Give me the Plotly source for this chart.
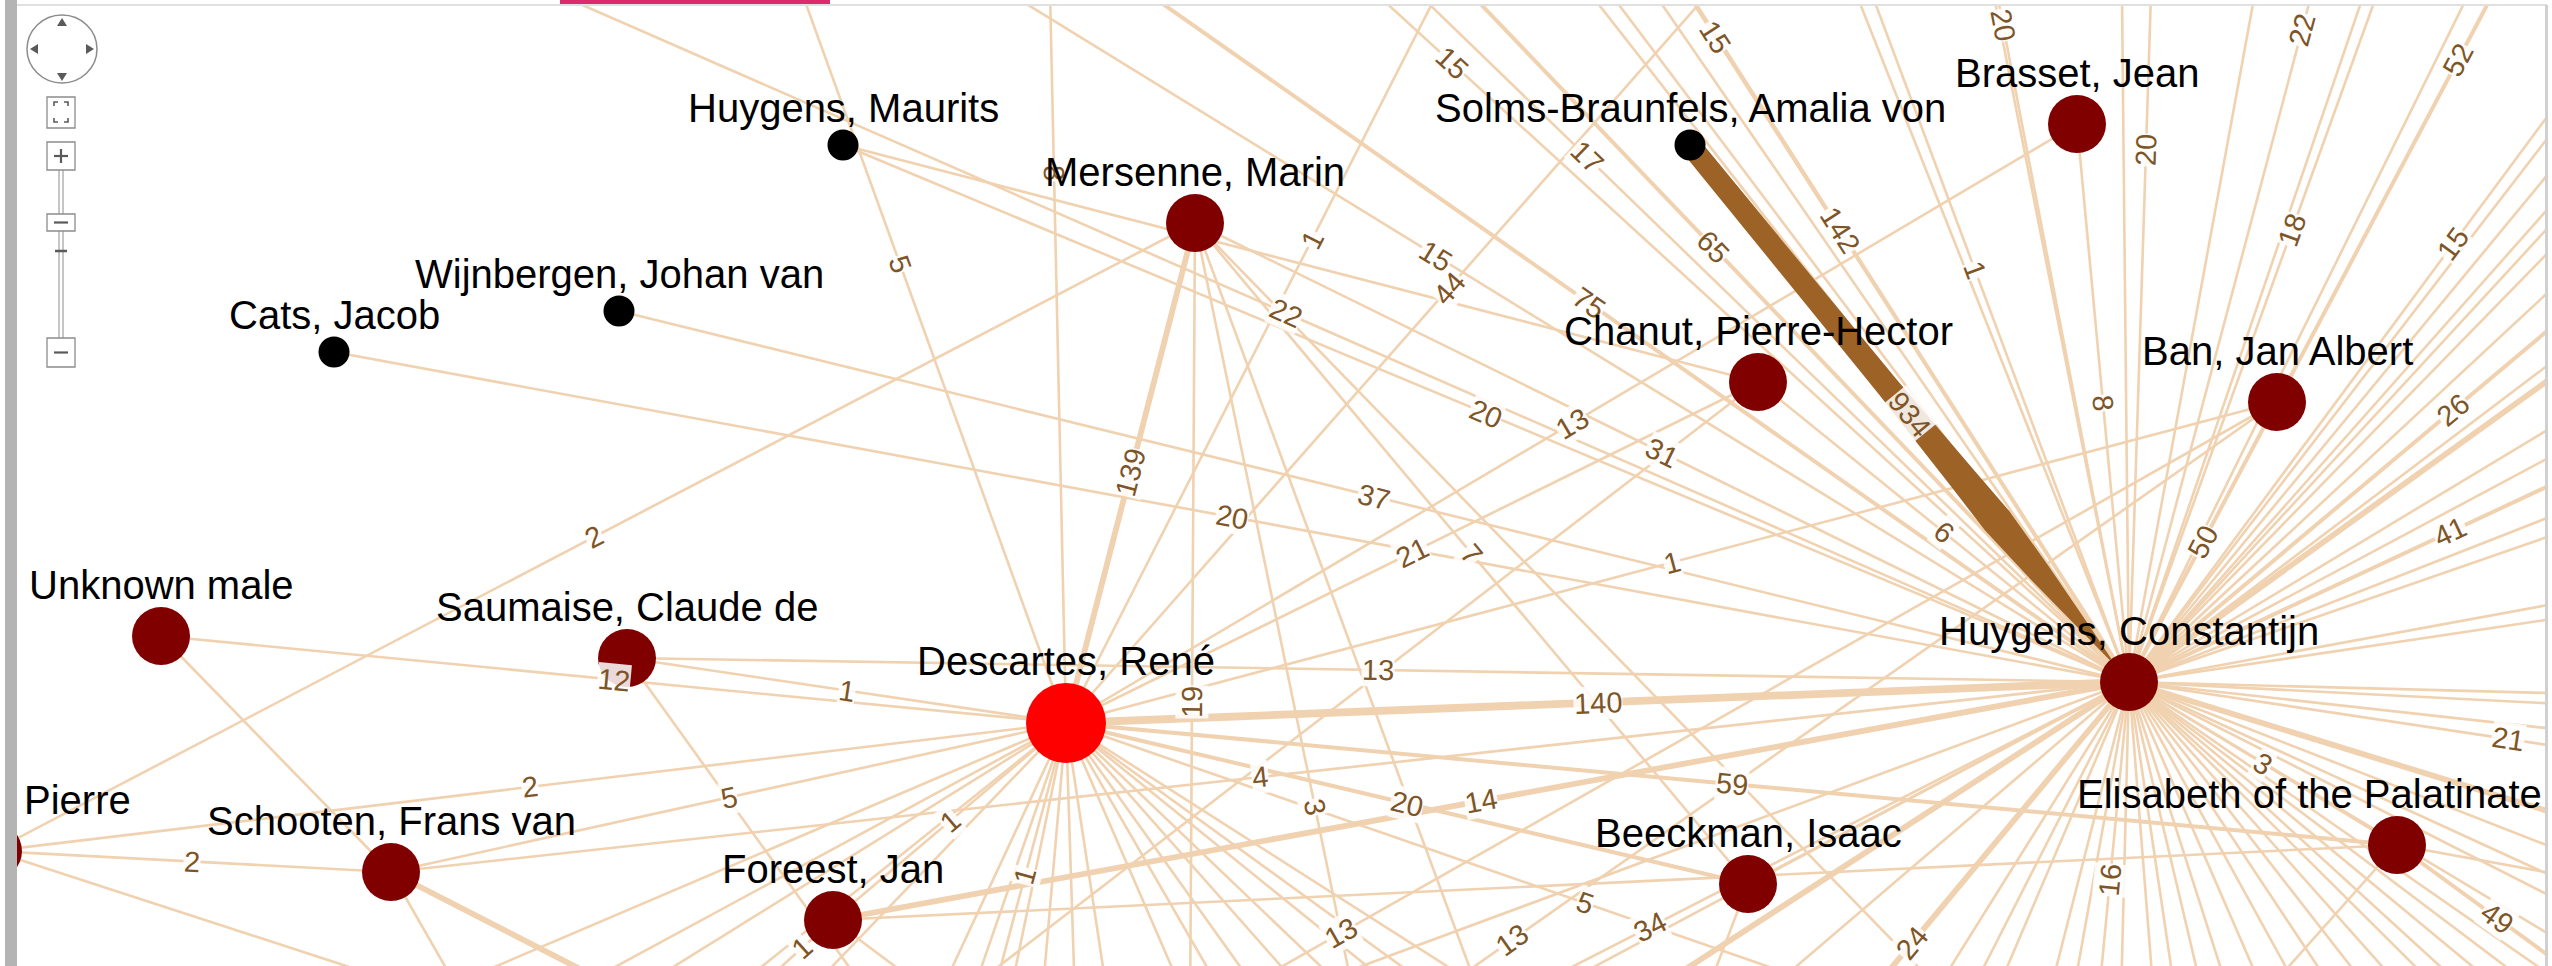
import math
import plotly.graph_objects as go

W, H = 2552, 966

# ---------------- nodes (layout coordinates of the network view) ----------------
node_keys = ["HM", "WIJ", "CATS", "SOLMS", "MER", "BRA", "CHA", "BAN", "UNK",
             "SAU", "DES", "HC", "ELI", "BEE", "FOR", "SCH", "PIE"]
node_labels = ["Huygens, Maurits", "Wijnbergen, Johan van", "Cats, Jacob",
               "Solms-Braunfels, Amalia von", "Mersenne, Marin", "Brasset, Jean",
               "Chanut, Pierre-Hector", "Ban, Jan Albert", "Unknown male",
               "Saumaise, Claude de", "Descartes, René", "Huygens, Constantijn",
               "Elisabeth of the Palatinate", "Beeckman, Isaac", "Foreest, Jan",
               "Schooten, Frans van", "Pierre"]
node_x = [843, 619, 334, 1690, 1195, 2077, 1758, 2277, 161, 627, 1066, 2129, 2397, 1748, 833, 391, -7]
node_y = [145, 311, 352, 145, 223, 124, 382, 402, 636, 658, 723, 682, 845, 884, 920, 872, 851]
node_role = ["minor", "minor", "minor", "minor", "corr", "corr", "corr", "corr", "corr",
             "corr", "focus", "corr", "corr", "corr", "corr", "corr", "corr"]

# ---------------- links between visible nodes ----------------
link_src = ["SOLMS", "MER", "DES", "CATS", "WIJ", "HM", "DES", "MER", "DES", "MER",
            "PIE", "SAU", "UNK", "SAU", "PIE", "SCH", "PIE", "FOR", "DES", "FOR",
            "DES", "BRA", "BAN", "CHA", "HC", "SCH", "DES", "HM", "UNK", "FOR", "BEE"]
link_dst = ["HC", "DES", "HC", "HC", "HC", "HC", "BRA", "HC", "CHA", "BEE",
            "MER", "DES", "DES", "HC", "DES", "DES", "SCH", "DES", "BEE", "HC",
            "ELI", "HC", "HC", "HC", "ELI", "HC", "BAN", "CHA", "SCH", "ELI", "HC"]
link_label = ["934", "139", "140", "20", "37", "20", "13", "31", "21", "7",
              "2", "1", "12", "13", "2", "5", "2", "1", "20", "14",
              "59", "8", "50", "6", "3", "4", "1", "", "", "", ""]
link_class = [0, 3, 4, 1, 1, 1, 1, 1, 1, 1,
              1, 1, 1, 1, 1, 1, 1, 1, 2, 3,
              2, 1, 1, 1, 1, 1, 1, 1, 1, 1, 1]

# ---------------- links to correspondents outside the view ----------------
spoke_src = ["HC", "HC", "HC", "HC", "HC", "HC", "HC", "HC", "HC", "HC",
             "ELI", "HC", "HC", "HC", "HC", "HC", "HC", "HC", "HC", "HC",
             "HC", "HC", "DES", "DES", "DES", "DES", "DES", "DES", "MER", "MER",
             "BAN", "BAN", "FOR",
             "HC", "HC", "DES", "DES", "DES", "DES", "DES", "SAU", "SCH", "SCH",
             "PIE", "FOR", "MER", "MER", "CHA", "BEE", "ELI", "ELI"]
spoke_x = [1877, 2163, 1821, 2455, 2475, 2787, 2777, 2777, 2771, 2887,
           2597, 1551, 1297, 1049, 1045, 775, 1301, 742, 2091, 1695,
           1171, 443, 1042, 1831, 734, 1558, 2104, 984, 1189, 1435,
           405, 747, 771,
           1000, 1250, 300, 480, 620, 720, 800, 880, 660, 470,
           420, 940, 1960, 1500, 955, 1700, 2700, 2250]
spoke_y = [-632, -382, -142, -222, -622, -562, -194, 138, 382, 796,
           991, -222, -188, -76, -368, -556, -608, -171, 1078, 1204,
           1172, -56, -377, -146, -195, -244, 1083, 1029, 1181, 1391,
           1464, 1478, 976,
           1100, 1150, 1050, 1040, 1000, 1000, 1000, 1010, 1010, 1010,
           990, 1000, 1010, 1050, 1000, 1010, 900, 1010]
spoke_label = ["20", "20", "1", "18", "22", "52", "15", "26", "41", "21",
               "49", "142", "65", "75", "17", "15", "15", "15", "16", "24",
               "34", "22", "8", "44", "5", "1", "5", "1", "19", "3",
               "13", "13", "1",
               "", "", "", "", "", "", "", "", "", "",
               "", "", "", "", "", "", "", ""]
spoke_class = [1, 1, 1, 1, 1, 2, 1, 2, 2, 1,
               2, 2, 2, 2, 1, 1, 1, 1, 1, 3,
               1, 1, 1, 1, 1, 1, 1, 1, 1, 1,
               1, 1, 1,
               1, 1, 1, 1, 1, 1, 1, 1, 3, 1,
               1, 1, 1, 1, 1, 1, 1, 1]

# unlabeled fan of Huygens, Constantijn (far ends of edges leaving the view)
hc_top_far_x = [1517, 1540, 1590, 1819, 1975, 2121, 2272, 2396, 2515]            # far end at y = -100
hc_right_far_y = [-60, -10, 37, 63, 97, 151, 250, 271, 338, 377, 458, 484, 577,
                  597, 697, 711, 745, 858, 905, 944, 972, 1025]                # far end at x = 2700
hc_right_class = [1, 1, 1, 1, 1, 1, 1, 3, 1, 1, 1, 1, 1, 1, 1, 1, 1, 3, 1, 1, 1, 1]
hc_bottom_far_x = [1638, 1757, 1930, 1967, 1993, 2048, 2072, 2121, 2154, 2176, 2204,
                   2231, 2267, 2304, 2340, 2377, 2412, 2449, 2477, 2513, 2550, 2586]  # y = 1000
hc_bottom_class = [3, 1, 1, 1, 1, 1, 1, 1, 1, 1, 1, 1, 1, 1, 1, 1, 1, 1, 1, 1, 1, 1]
# unlabeled fan of Descartes towards the bottom
des_bottom_far_x = [937, 970, 1009, 1042, 1075, 1108, 1186, 1226, 1264, 1311,
                    1356, 1409, 1448, 1500]                                     # y = 1000

# ---------------- styles ----------------
FONT = "Liberation Sans, Arial, Helvetica, sans-serif"
EDGE_COLOR = "#f0d2b0"
STRONG_COLOR = "#9c6226"
LABEL_COLOR = "#7d5527"
CLASS_WIDTH = {1: 2.6, 2: 4.0, 3: 5.8, 4: 7.8}
ROLE_SIZE = {"minor": 31, "corr": 58, "focus": 80}
ROLE_COLOR = {"minor": "#000000", "corr": "#800000", "focus": "#ff0000"}

pos = {k: (x, y) for k, x, y in zip(node_keys, node_x, node_y)}

# assemble edges: (x0, y0, x1, y1, label, class)
edges = []
for s, d, lab, c in zip(link_src, link_dst, link_label, link_class):
    edges.append((pos[s][0], pos[s][1], pos[d][0], pos[d][1], lab, c))
for s, x, y, lab, c in zip(spoke_src, spoke_x, spoke_y, spoke_label, spoke_class):
    edges.append((pos[s][0], pos[s][1], x, y, lab, c))
for x in hc_top_far_x:
    edges.append((pos["HC"][0], pos["HC"][1], x, -100, "", 1))
for y, c in zip(hc_right_far_y, hc_right_class):
    edges.append((pos["HC"][0], pos["HC"][1], 2700, y, "", c))
for x, c in zip(hc_bottom_far_x, hc_bottom_class):
    edges.append((pos["HC"][0], pos["HC"][1], x, 1000, "", c))
for x in des_bottom_far_x:
    edges.append((pos["DES"][0], pos["DES"][1], x, 1000, "", 1))

fig = go.Figure()

# tan edges, grouped by stroke class
for c in sorted(CLASS_WIDTH):
    xs, ys = [], []
    for x0, y0, x1, y1, lab, cc in edges:
        if cc == c:
            xs += [x0, x1, None]
            ys += [y0, y1, None]
    if xs:
        fig.add_trace(go.Scatter(x=xs, y=ys, mode="lines",
                                 line=dict(color=EDGE_COLOR, width=CLASS_WIDTH[c]),
                                 hoverinfo="skip", showlegend=False))

# the very strong Solms-Braunfels -> Huygens link (934), drawn as a tapering band
for x0, y0, x1, y1, lab, cc in edges:
    if cc == 0:
        L = math.hypot(x1 - x0, y1 - y0)
        ux, uy = (x1 - x0) / L, (y1 - y0) / L
        nx, ny = -uy, ux
        tip = (L - ROLE_SIZE["corr"] / 2) / L
        profile = [(0.0, 10.5), (0.45, 11.5), (0.62, 14), (0.70, 15.5), (0.80, 11), (0.90, 5), (tip, 1)]
        left = [(x0 + ux * f * L + nx * hw, y0 + uy * f * L + ny * hw) for f, hw in profile]
        right = [(x0 + ux * f * L - nx * hw, y0 + uy * f * L - ny * hw) for f, hw in profile[::-1]]
        poly = left + right
        fig.add_trace(go.Scatter(x=[p[0] for p in poly], y=[p[1] for p in poly],
                                 mode="lines", fill="toself", fillcolor=STRONG_COLOR,
                                 line=dict(width=0, color=STRONG_COLOR),
                                 hoverinfo="skip", showlegend=False))

# nodes
fig.add_trace(go.Scatter(
    x=node_x, y=node_y, mode="markers",
    marker=dict(size=[ROLE_SIZE[r] for r in node_role],
                color=[ROLE_COLOR[r] for r in node_role],
                opacity=1, line=dict(width=0)),
    hoverinfo="skip", showlegend=False))

annotations = []


def readable_angle(dx, dy):
    a = math.degrees(math.atan2(dy, dx))
    if a > 90:
        a -= 180
    elif a <= -90:
        a += 180
    return a


# edge value labels at the edge midpoints, rotated along the edge
for x0, y0, x1, y1, lab, cc in edges:
    if not lab:
        continue
    mx, my = (x0 + x1) / 2, (y0 + y1) / 2
    if not (0 <= mx <= W and 0 <= my <= H):
        continue
    annotations.append(dict(
        x=mx, y=my, xref="x", yref="y", text=lab, showarrow=False,
        textangle=readable_angle(x1 - x0, y1 - y0),
        font=dict(family=FONT, size=29, color=LABEL_COLOR),
        bgcolor="rgba(255,255,255,0.85)", borderpad=0))

# node names above the nodes, kept inside the view
NAME_SIZE = 40
for lab, x, y, r in zip(node_labels, node_x, node_y, node_role):
    est_w = 0.53 * NAME_SIZE * len(lab)
    ly = y - ROLE_SIZE[r] / 2 - 22
    if x + est_w / 2 > W - 8:
        ax, anchor = W - 8, "right"
    elif x - est_w / 2 < 22:
        ax, anchor = 22, "left"
    else:
        ax, anchor = x, "center"
    annotations.append(dict(
        x=ax, y=ly, xref="x", yref="y", text=lab, showarrow=False,
        xanchor=anchor, yanchor="middle",
        font=dict(family=FONT, size=NAME_SIZE, color="#000000")))

# ---------------- viewer chrome (frame and navigation control) ----------------
GRAY = "#8c8c8c"
DARK = "#5a5a5a"
shapes = [
    dict(type="rect", x0=0, x1=W, y0=0, y1=5, fillcolor="white", line_width=0),
    dict(type="rect", x0=2548, x1=W, y0=0, y1=H, fillcolor="white", line_width=0),
    dict(type="rect", x0=0, x1=5, y0=0, y1=H, fillcolor="white", line_width=0),
    dict(type="rect", x0=5, x1=17, y0=0, y1=H, fillcolor="#b4b4b4", line_width=0),
    dict(type="rect", x0=17, x1=2547, y0=4, y1=6, fillcolor="#e0e0e0", line_width=0),
    dict(type="rect", x0=2545, x1=2548, y0=5, y1=H, fillcolor="#d0d0d0", line_width=0),
    dict(type="rect", x0=560, x1=830, y0=0, y1=4, fillcolor="#dc2a6c", line_width=0),
    # pan control
    dict(type="circle", x0=27, x1=97, y0=15, y1=83, fillcolor="white",
         line=dict(color=GRAY, width=1.5)),
    dict(type="path", path="M 62 18 L 57 26 L 67 26 Z", fillcolor=DARK, line_width=0),
    dict(type="path", path="M 62 81 L 57 73 L 67 73 Z", fillcolor=DARK, line_width=0),
    dict(type="path", path="M 30 49 L 38 44 L 38 54 Z", fillcolor=DARK, line_width=0),
    dict(type="path", path="M 94 49 L 86 44 L 86 54 Z", fillcolor=DARK, line_width=0),
    # fit button
    dict(type="rect", x0=47, x1=75, y0=97, y1=128, fillcolor="white", line=dict(color=GRAY, width=1.3)),
    dict(type="path", path="M 54 106 L 54 102 L 58 102 M 64 102 L 68 102 L 68 106 "
                           "M 68 118 L 68 122 L 64 122 M 58 122 L 54 122 L 54 118",
         line=dict(color=DARK, width=1.6)),
    # slider track
    dict(type="line", x0=59, x1=59, y0=170, y1=338, line=dict(color=GRAY, width=1)),
    dict(type="line", x0=63, x1=63, y0=170, y1=338, line=dict(color=GRAY, width=1)),
    # zoom in
    dict(type="rect", x0=47, x1=75, y0=142, y1=170, fillcolor="white", line=dict(color=GRAY, width=1.3)),
    dict(type="line", x0=61, x1=61, y0=149, y1=163, line=dict(color=DARK, width=2.2)),
    dict(type="line", x0=54, x1=68, y0=156, y1=156, line=dict(color=DARK, width=2.2)),
    # slider handle
    dict(type="rect", x0=47, x1=75, y0=214, y1=231, fillcolor="white", line=dict(color=GRAY, width=1.3)),
    dict(type="line", x0=54, x1=68, y0=222.5, y1=222.5, line=dict(color=DARK, width=2.2)),
    dict(type="line", x0=55, x1=67, y0=251, y1=251, line=dict(color=DARK, width=2.5)),
    # zoom out
    dict(type="rect", x0=47, x1=75, y0=338, y1=367, fillcolor="white", line=dict(color=GRAY, width=1.3)),
    dict(type="line", x0=54, x1=68, y0=352.5, y1=352.5, line=dict(color=DARK, width=2.2)),
]

fig.update_layout(
    width=W, height=H,
    margin=dict(l=0, r=0, t=0, b=0),
    paper_bgcolor="white", plot_bgcolor="white",
    xaxis=dict(range=[0, W], visible=False, fixedrange=True),
    yaxis=dict(range=[H, 0], visible=False, fixedrange=True),
    showlegend=False,
    shapes=shapes,
    annotations=annotations,
)

fig.write_html("out.html", include_plotlyjs=True,
               config={"displayModeBar": False, "staticPlot": True},
               post_script="document.body.style.margin='0';document.body.style.overflow='hidden';")
